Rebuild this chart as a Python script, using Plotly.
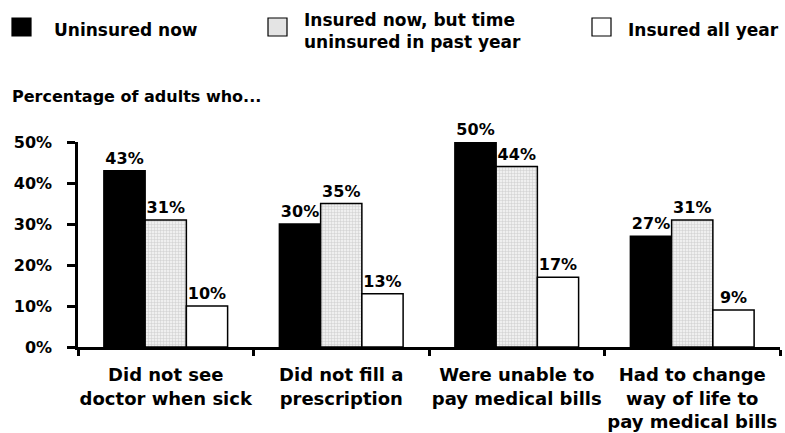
import plotly.graph_objects as go

categories = ["Did not see<br>doctor when sick", "Did not fill a<br>prescription",
              "Were unable to<br>pay medical bills", "Had to change<br>way of life to<br>pay medical bills"]
series_names = ["Uninsured now", "Insured now, but time<br>uninsured in past year", "Insured all year"]
uninsured_now = [43, 30, 50, 27]
insured_gap = [31, 35, 44, 31]
insured_all = [10, 13, 17, 9]
y_ticks = [0, 10, 20, 30, 40, 50]
y_tick_labels = ["0%", "10%", "20%", "30%", "40%", "50%"]

BOLD = "DejaVu Sans"
label_font = dict(family=BOLD, size=16, color="black", weight="bold")

fig = go.Figure()
styles = [
    dict(color="black"),
    dict(color="#e6e6e6", pattern=dict(shape="+", size=3, solidity=0.3, fgcolor="#a8a8a8", bgcolor="#efefef")),
    dict(color="white"),
]
for name, vals, st in zip(series_names, [uninsured_now, insured_gap, insured_all], styles):
    fig.add_trace(go.Bar(
        x=categories, y=vals, name=name,
        marker=dict(**st, line=dict(color="black", width=1.5)),
        text=[f"{v}%" for v in vals], textposition="outside",
        textfont=label_font, cliponaxis=False, showlegend=False,
    ))

fig.update_layout(
    width=785, height=433,
    margin=dict(l=78, r=5, t=142, b=86),
    paper_bgcolor="white", plot_bgcolor="white",
    barmode="group", bargap=0.295, bargroupgap=0,
    uniformtext=dict(minsize=16, mode="show"),
)
fig.update_xaxes(
    showline=True, linecolor="black", linewidth=2.5,
    ticks="outside", tickson="boundaries", ticklen=6, tickwidth=2.5, tickcolor="black",
    tickfont=dict(family=BOLD, size=18, color="black", weight="bold"),
    tickangle=0, ticklabelstandoff=10, automargin=False, showgrid=False,
)
fig.update_yaxes(
    range=[0, 50], showline=True, linecolor="black", linewidth=2.5,
    tickvals=y_ticks, ticktext=y_tick_labels,
    ticks="outside", ticklen=8, tickwidth=2.5, tickcolor="black",
    tickfont=label_font, showgrid=False, zeroline=False, automargin=False,
    ticklabelstandoff=12,
)

def px(xp):
    return (xp - 78) / (785 - 78 - 5)

def py(yp):
    return (433 - 86 - yp) / (433 - 142 - 86)

# title above axis
fig.add_annotation(x=px(10), y=py(96), xref="paper", yref="paper", text="Percentage of adults who...",
                   showarrow=False, xanchor="left", yanchor="middle",
                   font=dict(family=BOLD, size=16, color="black", weight="bold"))

# manual legend
legend_pos = [(12, 52, 30), (268, 302, 31), (592, 626, 30)]
fills = ["black", "#e4e4e4", "white"]
for (sx, tx, ty), fill, name in zip(legend_pos, fills, series_names):
    fig.add_shape(type="rect", xref="paper", yref="paper",
                  x0=px(sx), x1=px(sx + 19), y0=py(36), y1=py(18),
                  fillcolor=fill, line=dict(color="black", width=1.2))
    fig.add_annotation(x=px(tx), y=py(ty), xref="paper", yref="paper", text=name,
                       showarrow=False, xanchor="left", yanchor="middle", align="left",
                       font=dict(family=BOLD, size=17, color="black", weight="bold"))

fig.write_html("out.html")
